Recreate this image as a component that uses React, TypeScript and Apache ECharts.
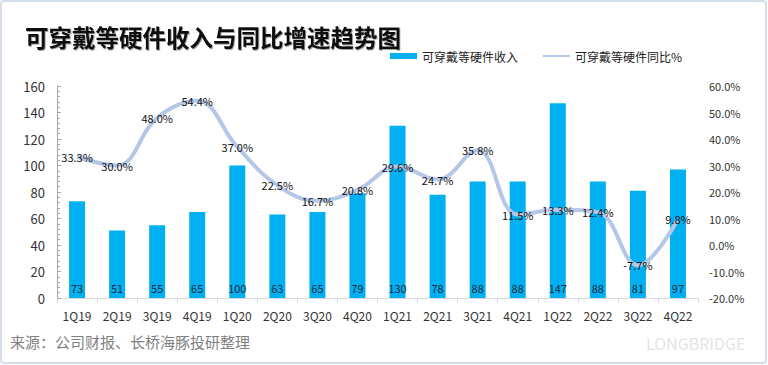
import React, { useEffect, useRef } from "react";
import * as echarts from "echarts";

const categories = ["1Q19","2Q19","3Q19","4Q19","1Q20","2Q20","3Q20","4Q20","1Q21","2Q21","3Q21","4Q21","1Q22","2Q22","3Q22","4Q22"];
const revenue = [73, 51, 55, 65, 100, 63, 65, 79, 130, 78, 88, 88, 147, 88, 81, 97];
const yoy = [33.3, 30.0, 48.0, 54.4, 37.0, 22.5, 16.7, 20.8, 29.6, 24.7, 35.8, 11.5, 13.3, 12.4, -7.7, 9.8];
const titleText = "可穿戴等硬件收入与同比增速趋势图";
const seriesNames = ["可穿戴等硬件收入", "可穿戴等硬件同比%"];
const sourceText = "来源：公司财报、长桥海豚投研整理";

const FONT = "'Microsoft YaHei', 'Noto Sans CJK SC', 'Noto Sans', sans-serif";

export default function App() {
  const ref = useRef<HTMLDivElement>(null);
  useEffect(() => {
    if (!ref.current) return;
    const chart = echarts.init(ref.current, undefined, { renderer: "svg" });
    chart.setOption({
      animation: false,
      backgroundColor: "#ffffff",
      textStyle: { fontFamily: FONT },
      title: {
        text: titleText,
        left: 20,
        top: 20,
        textStyle: {
          fontSize: 23.5,
          fontWeight: "bold",
          color: "#111",
          fontFamily: FONT,
          textShadowColor: "rgba(0,0,0,0.35)",
          textShadowBlur: 1,
          textShadowOffsetX: 1,
          textShadowOffsetY: 1,
        },
      },
      legend: {
        left: 385,
        top: 45,
        itemWidth: 27,
        itemHeight: 6,
        itemGap: 24,
        textStyle: { fontSize: 12, color: "#222", fontFamily: FONT },
        data: [
          { name: seriesNames[0], icon: "rect" },
          { name: seriesNames[1] },
        ],
      },
      grid: { left: 57, right: 70, top: 86, bottom: 67, containLabel: false },
      xAxis: {
        type: "category",
        data: categories,
        axisLine: { lineStyle: { color: "#d9d9d9" } },
        axisTick: { show: true, length: 5, lineStyle: { color: "#d9d9d9" } },
        axisLabel: { fontSize: 12, color: "#333", margin: 11 },
      },
      yAxis: [
        {
          type: "value",
          min: 0,
          max: 160,
          interval: 20,
          axisLine: { show: true, lineStyle: { color: "#a6a6a6" } },
          axisTick: { show: true, inside: true, length: 4, lineStyle: { color: "#a6a6a6" } },
          minorTick: { show: true, splitNumber: 5, length: 3, lineStyle: { color: "#a6a6a6" } },
          splitLine: { show: false },
          axisLabel: { fontSize: 13, color: "#333", margin: 12 },
        },
        {
          type: "value",
          min: -20,
          max: 60,
          interval: 10,
          axisLine: { show: false },
          axisTick: { show: false },
          splitLine: { show: false },
          axisLabel: {
            fontSize: 11,
            color: "#333",
            margin: 11,
            formatter: (v: number) => v.toFixed(1) + "%",
          },
        },
      ],
      series: [
        {
          name: seriesNames[0],
          type: "bar",
          data: revenue,
          barWidth: 16,
          itemStyle: { color: "#00b0f0" },
          label: {
            show: true,
            position: "insideBottom",
            distance: 5,
            fontSize: 11,
            color: "#1c2a3a",
          },
        },
        {
          name: seriesNames[1],
          type: "line",
          yAxisIndex: 1,
          data: yoy,
          smooth: 0.4,
          symbol: "circle",
          symbolSize: 1,
          showSymbol: true,
          lineStyle: { color: "#b4c7e7", width: 4 },
          itemStyle: { color: "rgba(180,199,231,0)" },
          label: {
            show: true,
            position: "inside",
            fontSize: 11,
            color: "#111",
            formatter: (p: any) => Number(p.value).toFixed(1) + "%",
          },
        },
      ],
      graphic: [
        {
          type: "rect",
          shape: { x: 1, y: 1, width: 765, height: 362, r: 3 },
          style: { fill: "none", stroke: "#d5dfeb", lineWidth: 2 },
          silent: true,
        },
        {
          type: "text",
          x: 10,
          y: 341,
          style: {
            text: sourceText,
            fill: "#7f7f7f",
            font: `15px ${FONT}`,
            textVerticalAlign: "middle",
            verticalAlign: "middle",
          },
        },
        {
          type: "text",
          x: 646,
          y: 343,
          style: {
            text: "LONGBRIDGE",
            fill: "#e4e4e4",
            font: `16px ${FONT}`,
            textVerticalAlign: "middle",
            verticalAlign: "middle",
          },
        },
      ],
    });
    return () => chart.dispose();
  }, []);
  return (
    <div
      ref={ref}
      style={{ position: "absolute", left: 0, top: 0, width: 768, height: 365 }}
    />
  );
}
